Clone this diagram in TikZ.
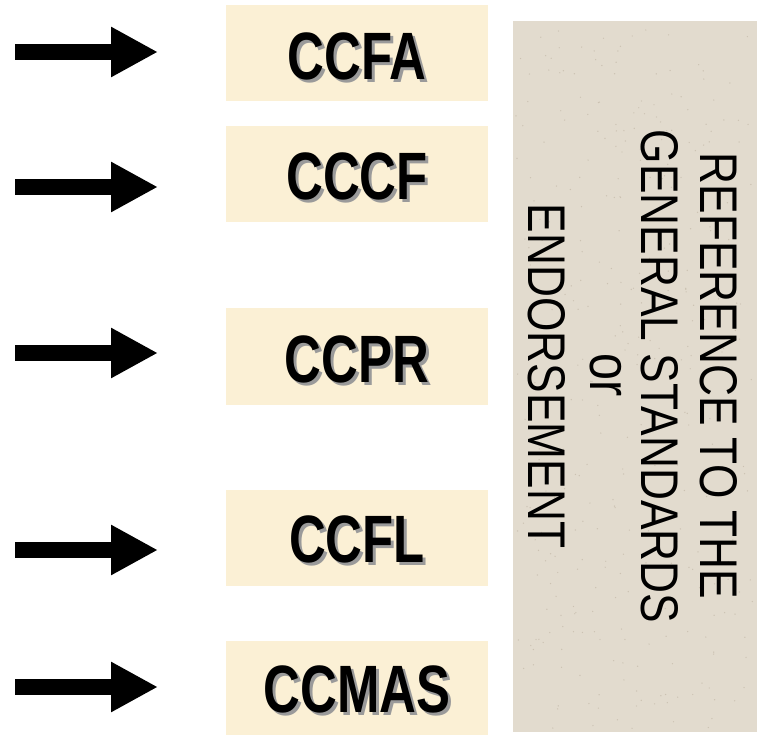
\documentclass[tikz,border=0pt]{standalone}
\usepackage{fontspec}
\setmainfont{Liberation Sans}
\newfontfamily\boxfont[FakeStretch=0.76]{Liberation Sans}
\newfontfamily\sidefont[FakeStretch=0.835]{Liberation Sans}
\usetikzlibrary{arrows.meta}
\definecolor{cream}{HTML}{FBF0D5}
\definecolor{stone}{HTML}{E2DBCE}
\definecolor{speck}{HTML}{CBC2B2}
\definecolor{shade}{HTML}{9A9A9A}
\newcommand\shadowed[1]{\makebox[0pt][l]{\hspace{3pt}\raisebox{-3pt}{\textcolor{shade}{#1}}}#1}
\begin{document}
\begin{tikzpicture}[x=1pt,y=-1pt,
  codebox/.style={fill=cream, draw=none, minimum width=262pt, minimum height=96pt, inner sep=0pt},
  bigarrow/.style={line width=16pt, -{Triangle[length=47pt,width=47pt]}},
  lbl/.style={font=\boxfont\bfseries\fontsize{67}{67}\selectfont, anchor=base, inner sep=0pt},
  side/.style={font=\sidefont\fontsize{53}{53}\selectfont, rotate=-90, anchor=base, inner sep=0pt}]
\useasboundingbox (0,0) rectangle (763,735);
\fill[white] (0,0) rectangle (763,735);

% stone panel
\node[fill=stone, draw=none, minimum width=244pt, minimum height=711pt, inner sep=0pt] (g) at (635,376.5) {};
\pgfmathsetseed{7}
\foreach \i in {1,...,350}{
  \pgfmathsetmacro{\px}{516+rnd*238}
  \pgfmathsetmacro{\py}{24+rnd*705}
  \fill[speck] (\px,\py) circle (0.7pt);
}
\node[side] (t1) at (700,376) {REFERENCE TO THE};
\node[side] (t2) at (641,376.5) {GENERAL STANDARDS};
\node[side, font=\sidefont\fontsize{58}{58}\selectfont] (t3) at (590,375) {or};
\node[side] (t4) at (528,376) {ENDORSEMENT};

% boxes
\node[codebox] (b1) at (357,53) {};
\node[codebox] (b2) at (357,174.5) {};
\node[codebox] (b3) at (357,356.5) {};
\node[codebox] (b4) at (357,537.5) {};
\node[codebox] (b5) at (357,689) {};

% labels with shadow
\node[lbl] (l1) at (357,80) {\shadowed{CCFA}};
\node[lbl] (l2) at (357,200) {\shadowed{CCCF}};
\node[lbl] (l3) at (357,382) {\shadowed{CCPR}};
\node[lbl] (l4) at (357,562) {\shadowed{CCFL}};
\node[lbl] (l5) at (357,712) {\shadowed{CCMAS}};

% arrows
\coordinate (a1s) at (15,52);  \coordinate (a1e) at (158,52);
\coordinate (a2s) at (15,187); \coordinate (a2e) at (158,187);
\coordinate (a3s) at (15,353); \coordinate (a3e) at (158,353);
\coordinate (a4s) at (15,550); \coordinate (a4e) at (158,550);
\coordinate (a5s) at (15,687); \coordinate (a5e) at (158,687);
\draw[bigarrow] (a1s) -- (a1e);
\draw[bigarrow] (a2s) -- (a2e);
\draw[bigarrow] (a3s) -- (a3e);
\draw[bigarrow] (a4s) -- (a4e);
\draw[bigarrow] (a5s) -- (a5e);
\end{tikzpicture}
\end{document}
